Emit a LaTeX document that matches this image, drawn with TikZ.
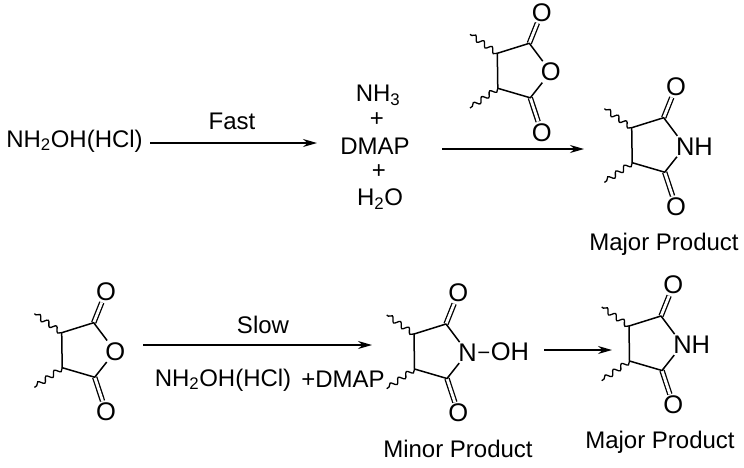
\documentclass[tikz,border=0pt]{standalone}
\usepackage{fontspec}
\setmainfont{Liberation Sans}
\usetikzlibrary{arrows.meta, decorations.pathmorphing, positioning}
\tikzset{
	txt/.style={inner sep=0pt, font=\fontsize{24}{28}\selectfont},
	atom/.style={inner sep=1.5pt, font=\fontsize{25.5}{28}\selectfont},
	bond/.style={line width=1.5pt},
	dbond/.style={line width=1.3pt, double, double distance=2.8pt},
	wavy/.style={line width=1.3pt, decorate, decoration={snake, segment length=10pt, amplitude=2.6pt}},
	arrow/.style={-{Stealth[length=14pt, width=8pt]}, line width=1.4pt},
	pics/ring/.style={code={
		\coordinate (-a) at (0,0);
		\coordinate (-b) at (0.5,35);
		\coordinate (-c) at (32,-10);
		\coordinate (-d) at (33,44.5);
		\coordinate (-wa) at (-27.3,-19);
		\coordinate (-wb) at (-27.3,54.7);
		\node[atom] (-ot) at (44.4,-41) {O};
		\node[atom] (-ob) at (44.4,79) {O};
		\node[atom] (-het) at (53.5,18.6) {#1};
		\draw[dbond] (-c) -- (-ot);
		\draw[dbond] (-d) -- (-ob);
		\draw[bond, line join=round] (-het) -- (-c) -- (-a) -- (-b) -- (-d) -- (-het);
		\draw[wavy] (-a) -- (-wa);
		\draw[wavy] (-b) -- (-wb);
	}}
}
\begin{document}
\begin{tikzpicture}[x=1pt, y=-1pt]
	\useasboundingbox (0,0) rectangle (744,467);
	% top row
	\node[txt] (hyd) at (74.5,141) {NH\textsubscript{2}OH(HCl)};
	\node[txt] (fast) at (232,121) {Fast};
	\coordinate (a1) at (150,143);
	\coordinate (a2) at (317,143);
	\draw[arrow] (a1) -- (a2);
	\node[txt] (nh3) at (378,95) {NH\textsubscript{3}};
	\node[txt] (p1) at (377,120) {+};
	\node[txt] (dmap) at (375,146) {DMAP};
	\node[txt] (p2) at (379,172) {+};
	\node[txt] (water) at (380,199) {H\textsubscript{2}O};
	\coordinate (b1) at (442,149);
	\coordinate (b2) at (584,149);
	\draw[arrow] (b1) -- (b2);
	\pic (ra) at (497.3,53.3) {ring=O};
	\pic (rb) at (631.7,127.7) {ring={N\rlap{H}}};
	\node[txt] (majora) at (664,244) {Major Product};
	% bottom row
	\pic (rc) at (61.7,332.7) {ring=O};
	\coordinate (c1) at (143,345);
	\coordinate (c2) at (372,345);
	\draw[arrow] (c1) -- (c2);
	\node[txt] (slow) at (263,325) {Slow};
	\node[txt] (hydb) at (223,380) {NH\textsubscript{2}OH(HCl)};
	\node[txt] (dmapb) at (343,379) {+DMAP};
	\pic (rd) at (414,334) {ring=N};
	\node[atom] (oh) at (510,352) {OH};
	\draw[bond] (rd-het) -- (oh);
	\node[txt] (minor) at (458,449) {Minor Product};
	\coordinate (d1) at (544,350);
	\coordinate (d2) at (612,350);
	\draw[arrow] (d1) -- (d2);
	\pic (re) at (629,326) {ring={N\rlap{H}}};
	\node[txt] (majorb) at (660,442) {Major Product};
\end{tikzpicture}
\end{document}
